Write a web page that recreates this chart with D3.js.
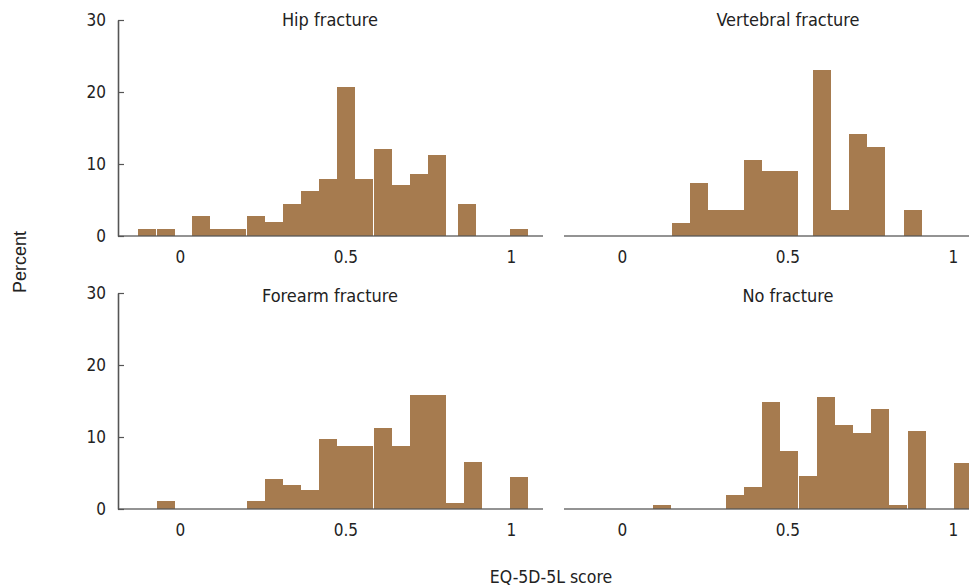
<!DOCTYPE html>
<html>
<head>
<meta charset="utf-8">
<script src="https://d3js.org/d3.v7.min.js"></script>
<style>
  body { margin: 0; background: #fff; }
  .cond { font-family: "Liberation Sans Narrow", "DejaVu Sans Condensed", "Roboto Condensed", sans-serif; font-stretch: condensed; }
</style>
</head>
<body>
<svg width="969" height="587" id="svg_hist"></svg>
<script>

// panel titles
var panels = ["Hip fracture", "Vertebral fracture", "Forearm fracture", "No fracture"];

// bin start (EQ-5D-5L score) and height (percent) for each panel
var hip_start = [-0.126, -0.069, 0.036, 0.091, 0.145, 0.202, 0.257, 0.311, 0.366, 0.420, 0.474, 0.529, 0.586, 0.640, 0.695, 0.749, 0.840, 0.997];
var hip_pct   = [1.0, 1.0, 2.8, 1.0, 1.0, 2.8, 2.0, 4.4, 6.3, 7.9, 20.7, 7.9, 12.1, 7.1, 8.6, 11.3, 4.4, 1.0];

var vert_start = [0.151, 0.205, 0.260, 0.314, 0.369, 0.423, 0.477, 0.577, 0.631, 0.686, 0.740, 0.852];
var vert_pct   = [1.8, 7.3, 3.6, 3.6, 10.6, 9.0, 9.0, 23.0, 3.6, 14.1, 12.4, 3.6];

var fore_start = [-0.069, 0.202, 0.257, 0.311, 0.366, 0.420, 0.474, 0.529, 0.586, 0.640, 0.695, 0.749, 0.804, 0.858, 0.997];
var fore_pct   = [1.1, 1.1, 4.1, 3.3, 2.6, 9.7, 8.8, 8.8, 11.2, 8.8, 15.9, 15.9, 0.9, 6.5, 4.4];

var nofx_start = [0.094, 0.314, 0.369, 0.423, 0.477, 0.535, 0.589, 0.643, 0.698, 0.752, 0.807, 0.864, 1.003];
var nofx_pct   = [0.6, 2.0, 3.1, 14.9, 8.1, 4.6, 15.5, 11.7, 10.5, 13.9, 0.6, 10.9, 6.4];

var bin_w = 0.0544;
var y_ticks = [0, 10, 20, 30];
var x_ticks = [0, 0.5, 1];

var series = [
  {title: panels[0], start: hip_start, pct: hip_pct, col: 0, row: 0},
  {title: panels[1], start: vert_start, pct: vert_pct, col: 1, row: 0},
  {title: panels[2], start: fore_start, pct: fore_pct, col: 0, row: 1},
  {title: panels[3], start: nofx_start, pct: nofx_pct, col: 1, row: 1}
];

var svg = d3.select("#svg_hist");

var bar_col = "#a67b4f";
var axis_col = "#555";

// x scales for the two columns, y scales for the two rows
var x_cols = [
  d3.scaleLinear().domain([-0.187, 1.097]).range([118, 543]),
  d3.scaleLinear().domain([-0.175, 1.097]).range([564, 985])
];
var y_rows = [
  d3.scaleLinear().domain([0, 30]).range([236, 20]),
  d3.scaleLinear().domain([0, 30]).range([509, 293])
];
var title_dy = [6, 9];

series.forEach(function(s) {
  var x = x_cols[s.col];
  var y = y_rows[s.row];
  var g = svg.append("g");

  var dat = s.start.map(function(v, i) { return {x0: v, p: s.pct[i]}; });

  g.selectAll("rect")
    .data(dat)
    .enter()
    .append("rect")
    .attr("x", function(d) { return x(d.x0); })
    .attr("width", function(d) { return x(d.x0 + bin_w) - x(d.x0); })
    .attr("y", function(d) { return y(d.p); })
    .attr("height", function(d) { return y(0) - y(d.p); })
    .attr("shape-rendering", "crispEdges")
    .attr("fill", bar_col);

  // x axis: labels only, line drawn on top of bars
  var xAxis = d3.axisBottom(x)
    .tickValues(x_ticks)
    .tickSize(0)
    .tickPadding(15)
    .tickFormat(function(d) { return d == 0.5 ? "0.5" : d3.format("d")(d); });

  var gx = g.append("g")
    .attr("transform", "translate(0," + y(0) + ")")
    .call(xAxis);
  gx.select(".domain").remove();
  gx.selectAll("text")
    .attr("class", "cond")
    .attr("font-size", "17px")
    .attr("fill", "#222");

  g.append("line")
    .attr("x1", x.range()[0])
    .attr("x2", x.range()[1])
    .attr("y1", y(0))
    .attr("y2", y(0))
    .attr("stroke", axis_col)
    .attr("stroke-opacity", 0.85)
    .attr("stroke-width", 1.6);

  // y axis only on the left column
  if (s.col == 0) {
    var yAxis = d3.axisLeft(y)
      .tickValues(y_ticks)
      .tickSizeInner(-6)
      .tickSizeOuter(0)
      .tickPadding(12);
    var gy = g.append("g")
      .attr("transform", "translate(" + x.range()[0] + ",0)")
      .call(yAxis);
    gy.select(".domain").attr("stroke", axis_col).attr("stroke-width", 1.6);
    gy.selectAll(".tick line").attr("stroke", axis_col).attr("stroke-width", 1.2);
    gy.selectAll("text")
      .attr("class", "cond")
      .attr("font-size", "17px")
      .attr("fill", "#222");
  }

  var x_mid = s.col == 0 ? 330 : 788;
  g.append("text")
    .attr("class", "cond")
    .attr("x", x_mid)
    .attr("y", y(30) + title_dy[s.row])
    .attr("text-anchor", "middle")
    .attr("font-size", "18px")
    .attr("fill", "#222")
    .text(s.title);
});

svg.append("text")
  .attr("transform", "translate(26,262) rotate(-90)")
  .attr("text-anchor", "middle")
  .attr("font-family", "Liberation Sans, Arial, sans-serif")
  .attr("font-size", "18px")
  .attr("fill", "#222")
  .text("Percent");

svg.append("text")
  .attr("class", "cond")
  .attr("x", 551)
  .attr("y", 583)
  .attr("text-anchor", "middle")
  .attr("font-size", "17.5px")
  .attr("fill", "#222")
  .text("EQ-5D-5L score");

</script>
</body>
</html>
